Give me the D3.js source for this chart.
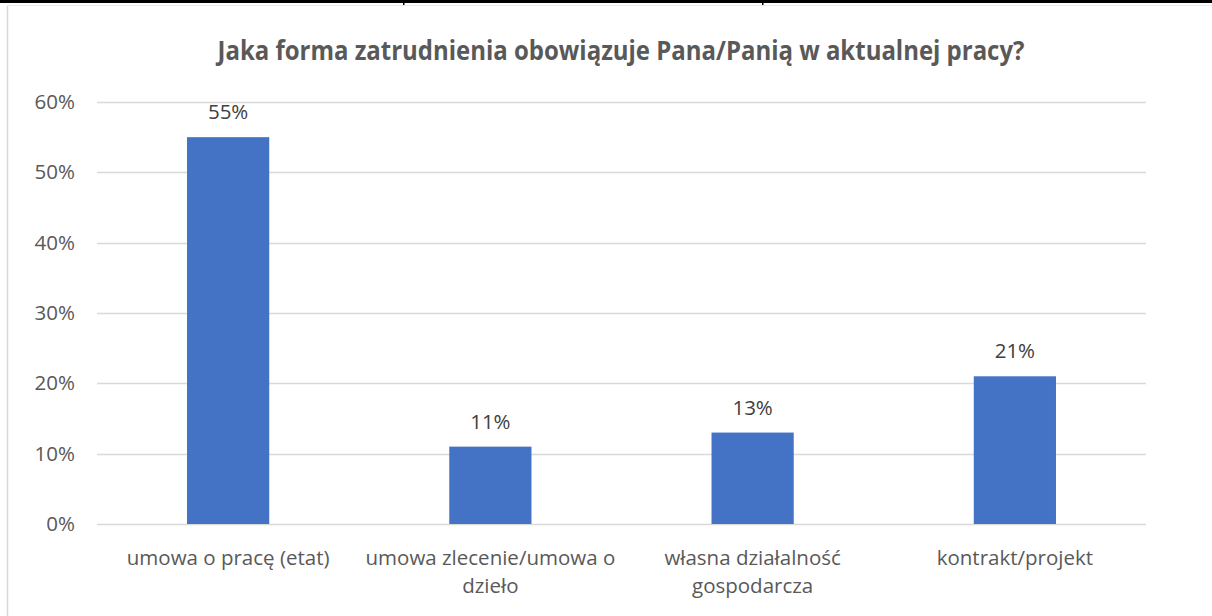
<!DOCTYPE html>
<html>
<head>
<meta charset="utf-8">
<script src="https://cdn.jsdelivr.net/npm/d3@7"></script>
<style>
  html, body { margin: 0; padding: 0; background: #fff; }
  svg { display: block; font-family: "Open Sans", "Liberation Sans", sans-serif; }
</style>
</head>
<body>
<svg id="chart" width="1212" height="616"></svg>
<script>
'use strict';
// chart data
var categories = ['umowa o pracę (etat)', 'umowa zlecenie/umowa o dzieło', 'własna działalność gospodarcza', 'kontrakt/projekt'];
var labelLines = [['umowa o pracę (etat)'], ['umowa zlecenie/umowa o', 'dzieło'], ['własna działalność', 'gospodarcza'], ['kontrakt/projekt']];
var values = [0.55, 0.11, 0.13, 0.21];
var yTicks = [0, 0.1, 0.2, 0.3, 0.4, 0.5, 0.6];
var title = 'Jaka forma zatrudnienia obowiązuje Pana/Panią w aktualnej pracy?';

var svg = d3.select('#chart');
var margin = { left: 97, right: 1146, top: 102, bottom: 524 };
var FS = 20.5;

// page table borders behind the chart
svg.append('rect').attr('x', 0).attr('y', 0).attr('width', 1212).attr('height', 3).attr('fill', '#000');
svg.append('rect').attr('x', 403).attr('y', 0).attr('width', 1.5).attr('height', 5).attr('fill', '#000');
svg.append('rect').attr('x', 762).attr('y', 0).attr('width', 1.5).attr('height', 5).attr('fill', '#000');
// chart frame
svg.append('line').attr('x1', 7.5).attr('x2', 7.5).attr('y1', 5).attr('y2', 616)
    .attr('stroke', '#d9d9d9').attr('stroke-width', 1.5);
svg.append('line').attr('x1', 7).attr('x2', 1212).attr('y1', 5.5).attr('y2', 5.5)
    .attr('stroke', '#ececec').attr('stroke-width', 1);

var x = d3.scaleBand().domain(categories).range([margin.left, margin.right]).paddingInner(0).paddingOuter(0);
var y = d3.scaleLinear().domain([0, 0.6]).range([margin.bottom, margin.top]);
var barW = x.bandwidth() / 3.19;

// title
svg.append('text')
    .attr('x', 621).attr('y', 60)
    .attr('text-anchor', 'middle')
    .attr('font-size', 26).attr('font-weight', 'bold')
    .attr('fill', '#595959')
    .attr('textLength', 807).attr('lengthAdjust', 'spacingAndGlyphs')
    .text(title);

// gridlines
svg.append('g').selectAll('line').data(yTicks).enter().append('line')
    .attr('x1', margin.left).attr('x2', margin.right)
    .attr('y1', function(d) { return Math.round(y(d)) + 0.5; })
    .attr('y2', function(d) { return Math.round(y(d)) + 0.5; })
    .attr('stroke', '#d9d9d9').attr('stroke-width', 1.5);

// y axis labels
var yAxis = d3.axisLeft(y).tickValues(yTicks).tickFormat(d3.format('.0%')).tickSize(0).tickPadding(0);
var gy = svg.append('g').attr('transform', 'translate(75,0)').call(yAxis);
gy.select('.domain').remove();
gy.selectAll('text').attr('font-size', FS).attr('fill', '#595959')
    .attr('font-family', '"Open Sans", "Liberation Sans", sans-serif');

// bars
svg.append('g').selectAll('rect').data(values).enter().append('rect')
    .attr('x', function(d, i) { return x(categories[i]) + x.bandwidth() / 2 - barW / 2; })
    .attr('y', function(d) { return y(d); })
    .attr('width', barW)
    .attr('height', function(d) { return y(0) - y(d); })
    .attr('fill', '#4472c4');

// data labels
svg.append('g').selectAll('text').data(values).enter().append('text')
    .attr('x', function(d, i) { return x(categories[i]) + x.bandwidth() / 2; })
    .attr('y', function(d) { return y(d) - 18; })
    .attr('text-anchor', 'middle')
    .attr('font-size', FS).attr('fill', '#404040')
    .text(function(d) { return d3.format('.0%')(d); });

// category labels
var cat = svg.append('g').selectAll('text').data(labelLines).enter().append('text')
    .attr('x', function(d, i) { return x(categories[i]) + x.bandwidth() / 2; })
    .attr('y', 565)
    .attr('text-anchor', 'middle')
    .attr('font-size', FS).attr('fill', '#595959');
cat.selectAll('tspan').data(function(d) { return d; }).enter().append('tspan')
    .attr('x', function() { return this.parentNode.getAttribute('x'); })
    .attr('dy', function(d, i) { return i === 0 ? 0 : 28; })
    .text(function(d) { return d; });
</script>
</body>
</html>
